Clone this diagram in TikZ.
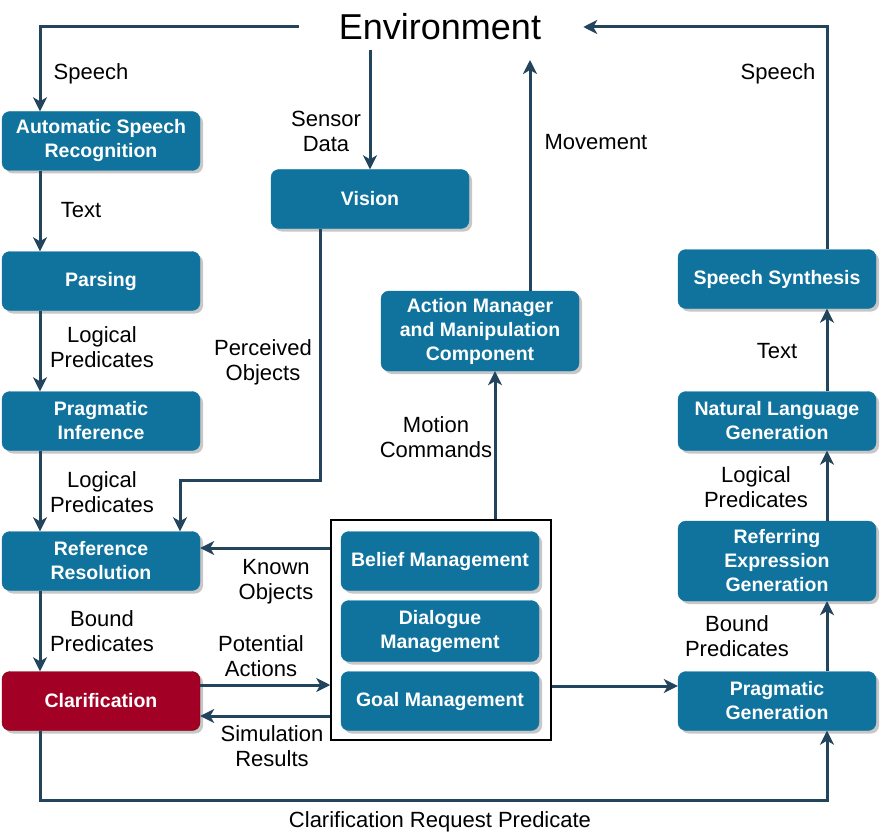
\documentclass[tikz,border=0pt]{standalone}
\usepackage{fontspec}
\setmainfont{Liberation Sans}
\usetikzlibrary{shadows,arrows.meta}
\definecolor{boxblue}{HTML}{10739E}
\definecolor{clarred}{HTML}{A20025}
\definecolor{clarborder}{HTML}{6F0000}
\definecolor{arrcol}{HTML}{23445D}
\tikzset{
  box/.style={rectangle, rounded corners=8pt, fill=boxblue, draw=boxblue, text=white,
    font=\bfseries\fontsize{19.5}{24}\selectfont, align=center, minimum width=198pt,
    minimum height=59pt, inner sep=0pt,
    drop shadow={shadow xshift=3pt, shadow yshift=-3pt, fill=black, opacity=0.22}},
  redbox/.style={box, fill=clarred, draw=clarborder},
  arr/.style={draw=arrcol, line width=3pt, -{Stealth[length=14pt, width=14pt, inset=4pt]}},
  lab/.style={font=\fontsize{22}{25}\selectfont, align=center, text=black, inner sep=0pt, yshift=-2pt},
}
\begin{document}
\begin{tikzpicture}[x=1pt, y=-1pt]
\useasboundingbox (0,0) rectangle (881,840);
% nodes
\node[font=\fontsize{36}{40}\selectfont, inner sep=0pt] (env) at (440,27) {Environment};
\node[box] (asr) at (101,141) {Automatic Speech\\Recognition};
\node[box] (parse) at (101,281) {Parsing};
\node[box] (pi) at (101,421) {Pragmatic\\Inference};
\node[box] (rr) at (101,561) {Reference\\Resolution};
\node[redbox] (clar) at (101,701) {Clarification};
\node[box] (vision) at (370,199) {Vision};
\node[box, minimum height=80pt] (am) at (480,331) {Action Manager\\and Manipulation\\Component};
\node[box] (ss) at (777,279) {Speech Synthesis};
\node[box] (nlg) at (777,421) {Natural Language\\Generation};
\node[box, minimum height=80pt] (reg) at (777,561) {Referring\\Expression\\Generation};
\node[box] (pg) at (777,701) {Pragmatic\\Generation};
\node[draw=black, line width=1.5pt, minimum width=220pt, minimum height=220pt, inner sep=0pt] (cont) at (441,630) {};
\node[box] (belief) at (440,561) {Belief Management};
\node[box, minimum height=61pt] (dial) at (440,631) {Dialogue\\Management};
\node[box] (goal) at (440,701) {Goal Management};
% coordinates
\coordinate (lx) at (40,0);
\coordinate (rx) at (827,0);
\coordinate (vbend) at (320,480);
\coordinate (rrin) at (180,480);
\coordinate (motx) at (495,0);
\coordinate (movx) at (530,0);
\coordinate (movend) at (530,60);
\coordinate (sensx) at (370,50);
\coordinate (bot) at (440,800);
% left column
\draw[arr] ([xshift=-40pt]env.west) -| (asr.north -| lx);
\draw[arr] (asr.south -| lx) -- (parse.north -| lx);
\draw[arr] (parse.south -| lx) -- (pi.north -| lx);
\draw[arr] (pi.south -| lx) -- (rr.north -| lx);
\draw[arr] (rr.south -| lx) -- (clar.north -| lx);
% vision
\draw[arr] (sensx) -- (vision.north);
\draw[arr] (vision.south -| vbend) -- (vbend) -| (rr.north -| rrin);
% container links
\draw[arr] ([yshift=13pt]rr.east -| cont.west) -- ([yshift=13pt]rr.east);
\draw[arr] ([yshift=16pt]clar.east) -- ([yshift=16pt]clar.east -| cont.west);
\draw[arr] ([yshift=-15pt]clar.east -| cont.west) -- ([yshift=-15pt]clar.east);
\draw[arr] (cont.north -| motx) -- (am.south -| motx);
\draw[arr] (am.north -| movx) -- (movend);
\draw[arr] ([yshift=15pt]pg.west -| cont.east) -- ([yshift=15pt]pg.west);
% right column
\draw[arr] (pg.north -| rx) -- (reg.south -| rx);
\draw[arr] (reg.north -| rx) -- (nlg.south -| rx);
\draw[arr] (nlg.north -| rx) -- (ss.south -| rx);
\draw[arr] (ss.north -| rx) |- ([xshift=42pt]env.east);
% bottom loop
\draw[arr] (clar.south -| lx) |- (bot) -| (pg.south -| rx);
% labels
\node[lab] (l1) at (91,72) {Speech};
\node[lab] (l2) at (81,208) {Text};
\node[lab] (l3) at (102,345) {Logical\\Predicates};
\node[lab] (l4) at (102,490) {Logical\\Predicates};
\node[lab] (l5) at (102,629) {Bound\\Predicates};
\node[lab] (l6) at (326,129) {Sensor\\Data};
\node[lab] (l7) at (263,360) {Perceived\\Objects};
\node[lab] (l8) at (276,580) {Known\\Objects};
\node[lab] (l9) at (261,654) {Potential\\Actions};
\node[lab] (l10) at (272,744) {Simulation\\Results};
\node[lab] (l11) at (436,435) {Motion\\Commands};
\node[lab] (l12) at (596,140) {Movement};
\node[lab] (l13) at (778,72) {Speech};
\node[lab] (l14) at (777,349) {Text};
\node[lab] (l15) at (756,485) {Logical\\Predicates};
\node[lab] (l16) at (737,634) {Bound\\Predicates};
\node[lab] (l17) at (440,820) {Clarification Request Predicate};
\end{tikzpicture}
\end{document}
